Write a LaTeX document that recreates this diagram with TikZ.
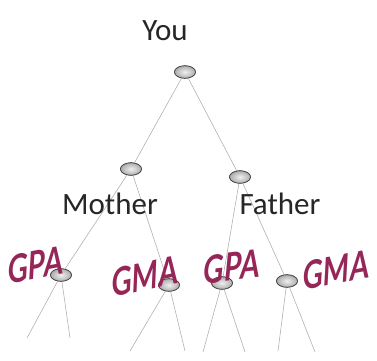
\documentclass[tikz,border=0pt]{standalone}
\usepackage{fontspec}
\setmainfont{Carlito}
\newfontfamily\handfont{Lato}[FakeSlant=0.22]
\usetikzlibrary{shapes.geometric}
\definecolor{inkrose}{RGB}{150,38,88}
\tikzset{
  person/.style={ellipse, minimum width=21pt, minimum height=12.5pt, inner sep=0pt,
    inner color=gray!12, outer color=gray!65, draw=gray!55!black, line width=0.7pt},
  branch/.style={draw=gray!65, line width=0.55pt},
  label/.style={font=\fontsize{31}{31}\selectfont, text=black!85, inner sep=0pt},
  scrawl/.style={font=\handfont\bfseries\fontsize{32}{32}\selectfont,
    text=inkrose, inner sep=0pt, xscale=0.88, yscale=1.2}
}
\begin{document}
\begin{tikzpicture}[x=1pt,y=-1pt]
\useasboundingbox (0,0) rectangle (377,360);

% people in the tree
\node[person] (you) at (185,72) {};
\node[person] (mom) at (131,169) {};
\node[person] (dad) at (240,177) {};
\node[person] (gpa1) at (61,275) {};
\node[person] (gma1) at (169,285) {};
\node[person] (gpa2) at (222,283) {};
\node[person] (gma2) at (287,281) {};

% loose ends of the next generation
\coordinate (a1) at (27,338);
\coordinate (a2) at (70,338);
\coordinate (b1) at (130,351);
\coordinate (b2) at (185,351);
\coordinate (c1) at (203,352);
\coordinate (c2) at (245,352);
\coordinate (d1) at (278,351);
\coordinate (d2) at (315,352);

% branches
\draw[branch] (you) -- (mom);
\draw[branch] (you) -- (dad);
\draw[branch] (mom) -- (gpa1);
\draw[branch] (mom) -- (gma1);
\draw[branch] (dad) -- (gpa2);
\draw[branch] (dad) -- (gma2);
\draw[branch] (gpa1) -- (a1);
\draw[branch] (gpa1) -- (a2);
\draw[branch] (gma1) -- (b1);
\draw[branch] (gma1) -- (b2);
\draw[branch] (gpa2) -- (c1);
\draw[branch] (gpa2) -- (c2);
\draw[branch] (gma2) -- (d1);
\draw[branch] (gma2) -- (d2);

% redraw the discs over the branch ends
\foreach \n in {you,mom,dad,gpa1,gma1,gpa2,gma2}
  \node[person] at (\n) {};

% typed names
\node[label] (tyou) at (165,31) {You};
\node[label] (tmom) at (110,204) {Mother};
\node[label] (tdad) at (280,204) {Father};

% handwritten names
\node[scrawl, rotate=8] (hgpa1) at (34,265) {GPA};
\node[scrawl, rotate=9] (hgma1) at (143,277) {GMA};
\node[scrawl, rotate=5] (hgpa2) at (230,267) {GPA};
\node[scrawl, rotate=8] (hgma2) at (334,270) {GMA};
\end{tikzpicture}
\end{document}
